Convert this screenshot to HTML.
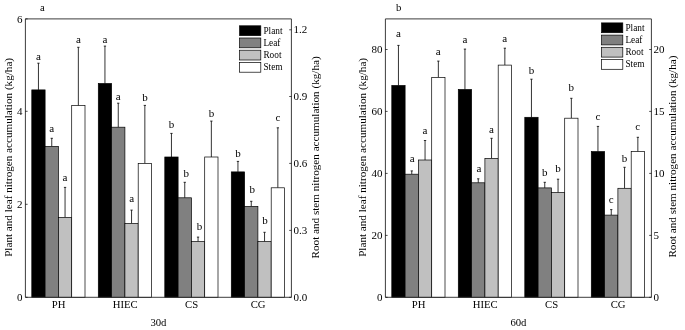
<!DOCTYPE html>
<html><head><meta charset="utf-8"><title>chart</title>
<style>
html,body{margin:0;padding:0;background:#fff;}
svg{display:block;filter:grayscale(1);font-family:"Liberation Serif", serif;}
.e{stroke:#000;stroke-width:0.8;}
.b{stroke:#000;stroke-width:0.7;}
.f{stroke:#333;stroke-width:0.95;fill:none;}
.t{stroke:#000;stroke-width:0.7;}
.tl{font-size:11px;fill:#000;}
.lt{font-size:11px;fill:#000;}
.lg{font-size:9.3px;fill:#000;}
.xl{font-size:10.7px;fill:#000;}
.at{font-size:11.15px;fill:#000;}
</style></head><body>
<svg width="685" height="330" viewBox="0 0 685 330">
<rect x="0" y="0" width="685" height="330" fill="#ffffff"/>
<line x1="38.45" y1="89.90" x2="38.45" y2="63.20" class="e"/>
<line x1="37.30" y1="63.20" x2="39.60" y2="63.20" class="e"/>
<rect x="31.80" y="89.90" width="13.30" height="207.40" fill="#000000" class="b"/>
<line x1="51.75" y1="146.40" x2="51.75" y2="138.30" class="e"/>
<line x1="50.60" y1="138.30" x2="52.90" y2="138.30" class="e"/>
<rect x="45.10" y="146.40" width="13.30" height="150.90" fill="#808080" class="b"/>
<line x1="65.05" y1="217.40" x2="65.05" y2="187.40" class="e"/>
<line x1="63.90" y1="187.40" x2="66.20" y2="187.40" class="e"/>
<rect x="58.40" y="217.40" width="13.30" height="79.90" fill="#c0c0c0" class="b"/>
<line x1="78.35" y1="105.60" x2="78.35" y2="47.30" class="e"/>
<line x1="77.20" y1="47.30" x2="79.50" y2="47.30" class="e"/>
<rect x="71.70" y="105.60" width="13.30" height="191.70" fill="#ffffff" class="b"/>
<line x1="104.95" y1="83.50" x2="104.95" y2="46.10" class="e"/>
<line x1="103.80" y1="46.10" x2="106.10" y2="46.10" class="e"/>
<rect x="98.30" y="83.50" width="13.30" height="213.80" fill="#000000" class="b"/>
<line x1="118.25" y1="127.20" x2="118.25" y2="103.20" class="e"/>
<line x1="117.10" y1="103.20" x2="119.40" y2="103.20" class="e"/>
<rect x="111.60" y="127.20" width="13.30" height="170.10" fill="#808080" class="b"/>
<line x1="131.55" y1="223.40" x2="131.55" y2="210.10" class="e"/>
<line x1="130.40" y1="210.10" x2="132.70" y2="210.10" class="e"/>
<rect x="124.90" y="223.40" width="13.30" height="73.90" fill="#c0c0c0" class="b"/>
<line x1="144.85" y1="163.40" x2="144.85" y2="105.40" class="e"/>
<line x1="143.70" y1="105.40" x2="146.00" y2="105.40" class="e"/>
<rect x="138.20" y="163.40" width="13.30" height="133.90" fill="#ffffff" class="b"/>
<line x1="171.45" y1="157.00" x2="171.45" y2="133.40" class="e"/>
<line x1="170.30" y1="133.40" x2="172.60" y2="133.40" class="e"/>
<rect x="164.80" y="157.00" width="13.30" height="140.30" fill="#000000" class="b"/>
<line x1="184.75" y1="197.80" x2="184.75" y2="182.30" class="e"/>
<line x1="183.60" y1="182.30" x2="185.90" y2="182.30" class="e"/>
<rect x="178.10" y="197.80" width="13.30" height="99.50" fill="#808080" class="b"/>
<line x1="198.05" y1="241.50" x2="198.05" y2="237.10" class="e"/>
<line x1="196.90" y1="237.10" x2="199.20" y2="237.10" class="e"/>
<rect x="191.40" y="241.50" width="13.30" height="55.80" fill="#c0c0c0" class="b"/>
<line x1="211.35" y1="157.00" x2="211.35" y2="121.10" class="e"/>
<line x1="210.20" y1="121.10" x2="212.50" y2="121.10" class="e"/>
<rect x="204.70" y="157.00" width="13.30" height="140.30" fill="#ffffff" class="b"/>
<line x1="237.95" y1="171.90" x2="237.95" y2="161.40" class="e"/>
<line x1="236.80" y1="161.40" x2="239.10" y2="161.40" class="e"/>
<rect x="231.30" y="171.90" width="13.30" height="125.40" fill="#000000" class="b"/>
<line x1="251.25" y1="206.40" x2="251.25" y2="201.30" class="e"/>
<line x1="250.10" y1="201.30" x2="252.40" y2="201.30" class="e"/>
<rect x="244.60" y="206.40" width="13.30" height="90.90" fill="#808080" class="b"/>
<line x1="264.55" y1="241.50" x2="264.55" y2="232.30" class="e"/>
<line x1="263.40" y1="232.30" x2="265.70" y2="232.30" class="e"/>
<rect x="257.90" y="241.50" width="13.30" height="55.80" fill="#c0c0c0" class="b"/>
<line x1="277.85" y1="187.80" x2="277.85" y2="127.80" class="e"/>
<line x1="276.70" y1="127.80" x2="279.00" y2="127.80" class="e"/>
<rect x="271.20" y="187.80" width="13.30" height="109.50" fill="#ffffff" class="b"/>
<path d="M25.4 297.3 V18.9 H291.4 V297.3 Z" class="f"/>
<line x1="25.4" y1="18.9" x2="27.599999999999998" y2="18.9" class="t"/>
<text x="22.4" y="22.5" text-anchor="end" class="tl">6</text>
<line x1="25.4" y1="111.3" x2="27.599999999999998" y2="111.3" class="t"/>
<text x="22.4" y="114.89999999999999" text-anchor="end" class="tl">4</text>
<line x1="25.4" y1="204.3" x2="27.599999999999998" y2="204.3" class="t"/>
<text x="22.4" y="207.9" text-anchor="end" class="tl">2</text>
<line x1="25.4" y1="297.3" x2="27.599999999999998" y2="297.3" class="t"/>
<text x="22.4" y="300.90000000000003" text-anchor="end" class="tl">0</text>
<line x1="291.4" y1="29.8" x2="289.2" y2="29.8" class="t"/>
<text x="293.59999999999997" y="33.3" class="tl">1.2</text>
<line x1="291.4" y1="96.5" x2="289.2" y2="96.5" class="t"/>
<text x="293.59999999999997" y="100.0" class="tl">0.9</text>
<line x1="291.4" y1="163.4" x2="289.2" y2="163.4" class="t"/>
<text x="293.59999999999997" y="166.9" class="tl">0.6</text>
<line x1="291.4" y1="230.4" x2="289.2" y2="230.4" class="t"/>
<text x="293.59999999999997" y="233.9" class="tl">0.3</text>
<line x1="291.4" y1="297.3" x2="289.2" y2="297.3" class="t"/>
<text x="293.59999999999997" y="300.8" class="tl">0.0</text>
<text x="38.4" y="59.6" text-anchor="middle" class="lt">a</text>
<text x="51.7" y="132.1" text-anchor="middle" class="lt">a</text>
<text x="65.0" y="180.5" text-anchor="middle" class="lt">a</text>
<text x="78.4" y="42.8" text-anchor="middle" class="lt">a</text>
<text x="105.0" y="42.8" text-anchor="middle" class="lt">a</text>
<text x="118.3" y="99.6" text-anchor="middle" class="lt">a</text>
<text x="131.6" y="201.9" text-anchor="middle" class="lt">a</text>
<text x="144.9" y="100.5" text-anchor="middle" class="lt">b</text>
<text x="171.5" y="127.9" text-anchor="middle" class="lt">b</text>
<text x="186.2" y="177.4" text-anchor="middle" class="lt">b</text>
<text x="199.5" y="230.1" text-anchor="middle" class="lt">b</text>
<text x="211.4" y="116.6" text-anchor="middle" class="lt">b</text>
<text x="238.0" y="157.3" text-anchor="middle" class="lt">b</text>
<text x="252.3" y="193.3" text-anchor="middle" class="lt">b</text>
<text x="264.9" y="223.8" text-anchor="middle" class="lt">b</text>
<text x="277.9" y="120.7" text-anchor="middle" class="lt">c</text>
<rect x="239.6" y="25.80" width="21.2" height="9.8" fill="#000000" class="b"/>
<text x="263.4" y="33.70" class="lg">Plant</text>
<rect x="239.6" y="38.00" width="21.2" height="9.8" fill="#808080" class="b"/>
<text x="263.4" y="45.90" class="lg">Leaf</text>
<rect x="239.6" y="50.20" width="21.2" height="9.8" fill="#c0c0c0" class="b"/>
<text x="263.4" y="58.10" class="lg">Root</text>
<rect x="239.6" y="62.40" width="21.2" height="9.8" fill="#ffffff" class="b"/>
<text x="263.4" y="70.30" class="lg">Stem</text>
<text x="58.65" y="308.0" text-anchor="middle" class="xl">PH</text>
<text x="125.15" y="308.0" text-anchor="middle" class="xl">HIEC</text>
<text x="191.65" y="308.0" text-anchor="middle" class="xl">CS</text>
<text x="258.15" y="308.0" text-anchor="middle" class="xl">CG</text>
<text x="158.40" y="326.0" text-anchor="middle" class="xl">30d</text>
<text transform="translate(11.7 157.4) rotate(-90)" text-anchor="middle" class="at">Plant and leaf nitrogen accumulation (kg/ha)</text>
<text transform="translate(319 157.4) rotate(-90)" text-anchor="middle" class="at">Root and stem nitrogen accumulation (kg/ha)</text>
<text x="42.3" y="10.8" text-anchor="middle" class="xl">a</text>
<line x1="398.45" y1="85.50" x2="398.45" y2="45.40" class="e"/>
<line x1="397.30" y1="45.40" x2="399.60" y2="45.40" class="e"/>
<rect x="391.80" y="85.50" width="13.30" height="211.80" fill="#000000" class="b"/>
<line x1="411.75" y1="174.20" x2="411.75" y2="170.90" class="e"/>
<line x1="410.60" y1="170.90" x2="412.90" y2="170.90" class="e"/>
<rect x="405.10" y="174.20" width="13.30" height="123.10" fill="#808080" class="b"/>
<line x1="425.05" y1="160.00" x2="425.05" y2="140.50" class="e"/>
<line x1="423.90" y1="140.50" x2="426.20" y2="140.50" class="e"/>
<rect x="418.40" y="160.00" width="13.30" height="137.30" fill="#c0c0c0" class="b"/>
<line x1="438.35" y1="77.40" x2="438.35" y2="61.10" class="e"/>
<line x1="437.20" y1="61.10" x2="439.50" y2="61.10" class="e"/>
<rect x="431.70" y="77.40" width="13.30" height="219.90" fill="#ffffff" class="b"/>
<line x1="464.95" y1="89.50" x2="464.95" y2="49.10" class="e"/>
<line x1="463.80" y1="49.10" x2="466.10" y2="49.10" class="e"/>
<rect x="458.30" y="89.50" width="13.30" height="207.80" fill="#000000" class="b"/>
<line x1="478.25" y1="182.80" x2="478.25" y2="178.80" class="e"/>
<line x1="477.10" y1="178.80" x2="479.40" y2="178.80" class="e"/>
<rect x="471.60" y="182.80" width="13.30" height="114.50" fill="#808080" class="b"/>
<line x1="491.55" y1="158.40" x2="491.55" y2="138.30" class="e"/>
<line x1="490.40" y1="138.30" x2="492.70" y2="138.30" class="e"/>
<rect x="484.90" y="158.40" width="13.30" height="138.90" fill="#c0c0c0" class="b"/>
<line x1="504.85" y1="65.10" x2="504.85" y2="48.20" class="e"/>
<line x1="503.70" y1="48.20" x2="506.00" y2="48.20" class="e"/>
<rect x="498.20" y="65.10" width="13.30" height="232.20" fill="#ffffff" class="b"/>
<line x1="531.45" y1="117.30" x2="531.45" y2="79.20" class="e"/>
<line x1="530.30" y1="79.20" x2="532.60" y2="79.20" class="e"/>
<rect x="524.80" y="117.30" width="13.30" height="180.00" fill="#000000" class="b"/>
<line x1="544.75" y1="187.90" x2="544.75" y2="182.30" class="e"/>
<line x1="543.60" y1="182.30" x2="545.90" y2="182.30" class="e"/>
<rect x="538.10" y="187.90" width="13.30" height="109.40" fill="#808080" class="b"/>
<line x1="558.05" y1="192.50" x2="558.05" y2="179.20" class="e"/>
<line x1="556.90" y1="179.20" x2="559.20" y2="179.20" class="e"/>
<rect x="551.40" y="192.50" width="13.30" height="104.80" fill="#c0c0c0" class="b"/>
<line x1="571.35" y1="118.20" x2="571.35" y2="98.30" class="e"/>
<line x1="570.20" y1="98.30" x2="572.50" y2="98.30" class="e"/>
<rect x="564.70" y="118.20" width="13.30" height="179.10" fill="#ffffff" class="b"/>
<line x1="597.95" y1="151.60" x2="597.95" y2="126.40" class="e"/>
<line x1="596.80" y1="126.40" x2="599.10" y2="126.40" class="e"/>
<rect x="591.30" y="151.60" width="13.30" height="145.70" fill="#000000" class="b"/>
<line x1="611.25" y1="215.10" x2="611.25" y2="209.60" class="e"/>
<line x1="610.10" y1="209.60" x2="612.40" y2="209.60" class="e"/>
<rect x="604.60" y="215.10" width="13.30" height="82.20" fill="#808080" class="b"/>
<line x1="624.55" y1="188.30" x2="624.55" y2="167.30" class="e"/>
<line x1="623.40" y1="167.30" x2="625.70" y2="167.30" class="e"/>
<rect x="617.90" y="188.30" width="13.30" height="109.00" fill="#c0c0c0" class="b"/>
<line x1="637.85" y1="151.60" x2="637.85" y2="137.30" class="e"/>
<line x1="636.70" y1="137.30" x2="639.00" y2="137.30" class="e"/>
<rect x="631.20" y="151.60" width="13.30" height="145.70" fill="#ffffff" class="b"/>
<path d="M385.4 297.3 V18.9 H651.4 V297.3 Z" class="f"/>
<line x1="385.4" y1="49.5" x2="387.59999999999997" y2="49.5" class="t"/>
<text x="382.4" y="53.1" text-anchor="end" class="tl">80</text>
<line x1="385.4" y1="111.4" x2="387.59999999999997" y2="111.4" class="t"/>
<text x="382.4" y="115.0" text-anchor="end" class="tl">60</text>
<line x1="385.4" y1="173.4" x2="387.59999999999997" y2="173.4" class="t"/>
<text x="382.4" y="177.0" text-anchor="end" class="tl">40</text>
<line x1="385.4" y1="235.4" x2="387.59999999999997" y2="235.4" class="t"/>
<text x="382.4" y="239.0" text-anchor="end" class="tl">20</text>
<line x1="385.4" y1="297.3" x2="387.59999999999997" y2="297.3" class="t"/>
<text x="382.4" y="300.90000000000003" text-anchor="end" class="tl">0</text>
<line x1="651.4" y1="49.5" x2="649.1999999999999" y2="49.5" class="t"/>
<text x="653.6" y="53.0" class="tl">20</text>
<line x1="651.4" y1="111.4" x2="649.1999999999999" y2="111.4" class="t"/>
<text x="653.6" y="114.9" class="tl">15</text>
<line x1="651.4" y1="173.4" x2="649.1999999999999" y2="173.4" class="t"/>
<text x="653.6" y="176.9" class="tl">10</text>
<line x1="651.4" y1="235.4" x2="649.1999999999999" y2="235.4" class="t"/>
<text x="653.6" y="238.9" class="tl">5</text>
<line x1="651.4" y1="297.3" x2="649.1999999999999" y2="297.3" class="t"/>
<text x="653.6" y="300.8" class="tl">0</text>
<text x="398.4" y="37.4" text-anchor="middle" class="lt">a</text>
<text x="412.1" y="161.5" text-anchor="middle" class="lt">a</text>
<text x="425.0" y="133.8" text-anchor="middle" class="lt">a</text>
<text x="438.3" y="55.1" text-anchor="middle" class="lt">a</text>
<text x="464.9" y="43.2" text-anchor="middle" class="lt">a</text>
<text x="479.0" y="171.5" text-anchor="middle" class="lt">a</text>
<text x="491.5" y="133.3" text-anchor="middle" class="lt">a</text>
<text x="504.8" y="42.3" text-anchor="middle" class="lt">a</text>
<text x="531.4" y="73.7" text-anchor="middle" class="lt">b</text>
<text x="544.7" y="176.4" text-anchor="middle" class="lt">b</text>
<text x="558.0" y="171.9" text-anchor="middle" class="lt">b</text>
<text x="571.3" y="91.4" text-anchor="middle" class="lt">b</text>
<text x="597.9" y="119.5" text-anchor="middle" class="lt">c</text>
<text x="611.2" y="202.9" text-anchor="middle" class="lt">c</text>
<text x="624.5" y="162.4" text-anchor="middle" class="lt">b</text>
<text x="637.8" y="130.0" text-anchor="middle" class="lt">c</text>
<rect x="601.6" y="22.90" width="21.2" height="9.8" fill="#000000" class="b"/>
<text x="625.4" y="30.80" class="lg">Plant</text>
<rect x="601.6" y="35.10" width="21.2" height="9.8" fill="#808080" class="b"/>
<text x="625.4" y="43.00" class="lg">Leaf</text>
<rect x="601.6" y="47.30" width="21.2" height="9.8" fill="#c0c0c0" class="b"/>
<text x="625.4" y="55.20" class="lg">Root</text>
<rect x="601.6" y="59.50" width="21.2" height="9.8" fill="#ffffff" class="b"/>
<text x="625.4" y="67.40" class="lg">Stem</text>
<text x="418.65" y="308.0" text-anchor="middle" class="xl">PH</text>
<text x="485.15" y="308.0" text-anchor="middle" class="xl">HIEC</text>
<text x="551.65" y="308.0" text-anchor="middle" class="xl">CS</text>
<text x="618.15" y="308.0" text-anchor="middle" class="xl">CG</text>
<text x="518.40" y="326.0" text-anchor="middle" class="xl">60d</text>
<text transform="translate(366.3 157.4) rotate(-90)" text-anchor="middle" class="at">Plant and leaf nitrogen accumulation (kg/ha)</text>
<text transform="translate(676.2 156.6) rotate(-90)" text-anchor="middle" class="at">Root and stem nitrogen accumulation (kg/ha)</text>
<text x="398.6" y="11.3" text-anchor="middle" class="xl">b</text>
</svg>
</body></html>
